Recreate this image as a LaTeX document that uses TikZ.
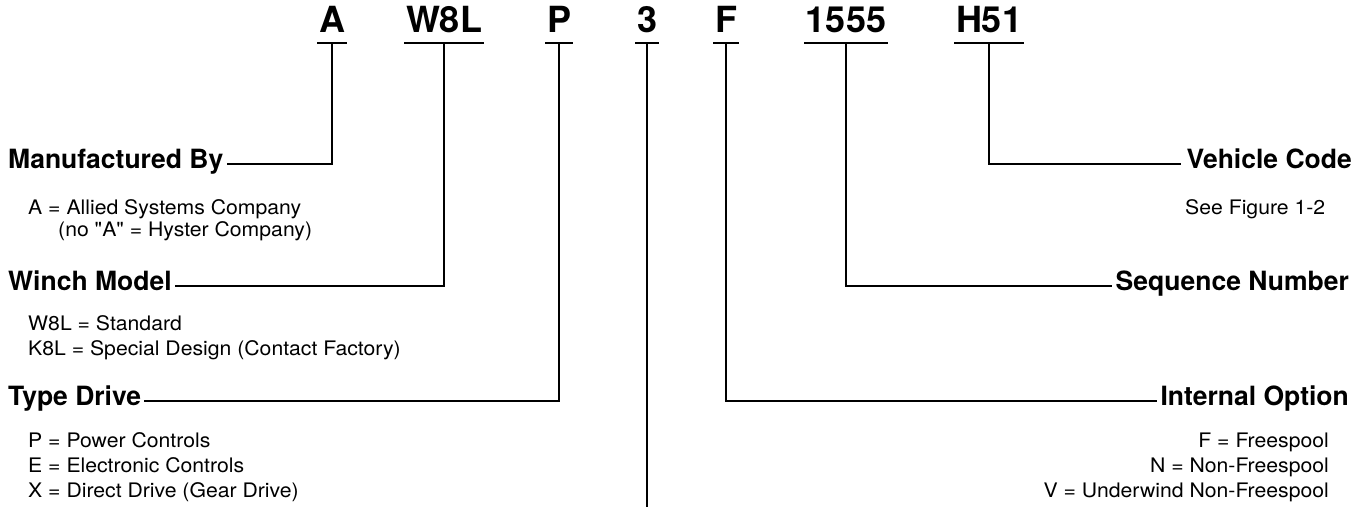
\documentclass[tikz,border=0pt]{standalone}
\usepackage{fontspec}
\setmainfont{TeX Gyre Heros}
\newfontfamily\descfont[FakeStretch=1.06]{TeX Gyre Heros}
\begin{document}
\begin{tikzpicture}[x=1pt,y=-1pt,
  code/.style={font=\fontsize{36}{36}\selectfont\bfseries, inner sep=0pt, anchor=base},
  head/.style={font=\fontsize{26.5}{26.5}\selectfont\bfseries, inner sep=0pt},
  desc/.style={font=\descfont\fontsize{20}{20}\selectfont, inner sep=0pt},
  conn/.style={line width=1.8pt, line cap=butt, line join=miter}]
\useasboundingbox (0,0) rectangle (1362,508);

% code letters
\node[code] (cA) at (332,33) {A};
\node[code] (cW) at (444,33) {W8L};
\node[code] (cP) at (559,33) {P};
\node[code] (c3) at (647,33) {3};
\node[code] (cF) at (726,33) {F};
\node[code] (cS) at (846,33) {1555};
\node[code] (cH) at (989,33) {H51};

\foreach \n in {cA,cW,cP,c3,cF,cS,cH}{
  \draw[conn] ([xshift=-1.5pt,yshift=-10pt]\n.base west) -- ([xshift=1.5pt,yshift=-10pt]\n.base east);
  \coordinate (s\n) at ([yshift=-10pt]\n.base);
}

% headers
\node[head, anchor=base west] (hM) at (8,168) {Manufactured By};
\node[head, anchor=base west] (hW) at (8,290) {Winch Model};
\node[head, anchor=base west] (hT) at (8,405) {Type Drive};
\node[head, anchor=base east] (hV) at (1352,168) {Vehicle Code};
\node[head, anchor=base east] (hS) at (1349,290) {Sequence Number};
\node[head, anchor=base east] (hI) at (1349,405) {Internal Option};

% connectors
\draw[conn] (scA) |- ([xshift=3pt,yshift=4pt]hM.base east);
\draw[conn] (scW) |- ([xshift=3pt,yshift=4pt]hW.base east);
\draw[conn] (scP) |- ([xshift=3pt,yshift=4pt]hT.base east);
\draw[conn] (scH) |- ([xshift=-5pt,yshift=4pt]hV.base west);
\draw[conn] (scS) |- ([xshift=-4pt,yshift=4pt]hS.base west);
\draw[conn] (scF) |- ([xshift=-3pt,yshift=4pt]hI.base west);
\coordinate (e3) at (647,507);
\draw[conn] (sc3) -- (e3);

% descriptions left
\node[desc, anchor=base west] (dM1) at (28,214) {A = Allied Systems Company};
\node[desc, anchor=base west] (dM2) at (58,236) {(no "A" = Hyster Company)};
\node[desc, anchor=base west] (dW1) at (28,330) {W8L = Standard};
\node[desc, anchor=base west] (dW2) at (28,355) {K8L = Special Design (Contact Factory)};
\node[desc, anchor=base west] (dT1) at (28,447) {P = Power Controls};
\node[desc, anchor=base west] (dT2) at (28,472) {E = Electronic Controls};
\node[desc, anchor=base west] (dT3) at (28,497) {X = Direct Drive (Gear Drive)};

% descriptions right
\node[desc, anchor=base west] (dV1) at (1185,214) {See Figure 1-2};
\node[desc, anchor=base east] (dI1) at (1329,447) {F = Freespool};
\node[desc, anchor=base east] (dI2) at (1329,472) {N = Non-Freespool};
\node[desc, anchor=base east] (dI3) at (1329,497) {V = Underwind Non-Freespool};
\end{tikzpicture}
\end{document}
